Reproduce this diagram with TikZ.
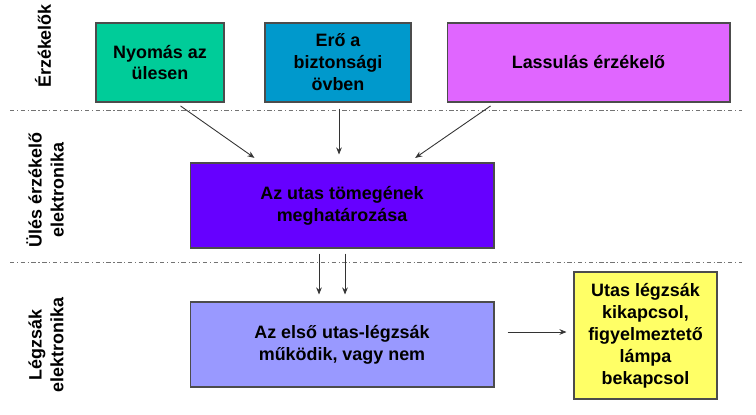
\documentclass[tikz,border=0pt]{standalone}
\usepackage{fontspec}
\setmainfont{Liberation Sans}
\usetikzlibrary{calc,arrows.meta}
\definecolor{nyomasgreen}{RGB}{0,204,153}
\definecolor{erokek}{RGB}{0,153,204}
\definecolor{lassulila}{RGB}{224,102,255}
\definecolor{tomegviola}{RGB}{102,0,255}
\definecolor{elsokek}{RGB}{153,153,255}
\definecolor{utassarga}{RGB}{255,255,102}
\tikzset{
  box/.style={draw=black!70, line width=0.6pt, align=center, inner sep=0pt,
    font=\fontsize{10.2}{12.5}\selectfont\bfseries},
  sidelabel/.style={rotate=90, align=center,
    font=\fontsize{10.2}{12.5}\selectfont\bfseries},
  sep/.style={draw=black!55, line width=0.5pt, dash pattern=on 2.5pt off 1.5pt on 0.6pt off 1.5pt},
  conn/.style={draw=black!80, line width=0.5pt, -{Stealth[length=4pt,width=3.2pt]}}
}
\begin{document}
\begin{tikzpicture}[x=0.02cm, y=-0.02cm]
			%%%%% START %%%%%
			\useasboundingbox (0, 0) rectangle (756, 415);
			
			\node[sidelabel] (erzekelok) at (43, 46) {Érzékelők};
			\node[sidelabel] (ules) at (45, 190) {Ülés érzékelő\\elektronika};
			\node[sidelabel] (legzsak) at (46, 345) {Légzsák\\elektronika};
			
			\draw[sep] (10, 110) -- (742, 110);
			\draw[sep] (10, 262) -- (742, 262);
			
			\node[box, fill=nyomasgreen, minimum width=2.56cm, minimum height=1.58cm] (nyomas) at (160, 62.5) {Nyomás az\\ülesen};
			\node[box, fill=erokek, minimum width=2.92cm, minimum height=1.58cm] (ero) at (338, 62.5) {Erő a\\biztonsági\\övben};
			\node[box, fill=lassulila, minimum width=5.66cm, minimum height=1.58cm] (lassulas) at (588.5, 62.5) {Lassulás érzékelő};
			
			\node[box, fill=tomegviola, minimum width=6.08cm, minimum height=1.70cm] (tomeg) at (342, 205.5) {Az utas tömegének\\meghatározása};
			
			\node[box, fill=elsokek, minimum width=6.08cm, minimum height=1.70cm] (elso) at (342, 344.5) {Az első utas-légzsák\\működik, vagy nem};
			\node[box, fill=utassarga, minimum width=2.86cm, minimum height=2.54cm] (utas) at (645.5, 335.5) {Utas légzsák\\kikapcsol,\\figyelmeztető\\lámpa\\bekapcsol};
			
			\draw[conn, shorten <=0.12cm, shorten >=0.16cm] ($(nyomas.south)+(15.6, 0)$) -- ($(tomeg.north)+(-81, 0)$);
			\draw[conn, shorten <=0.12cm, shorten >=0.16cm] ($(ero.south)+(1, 0)$) -- ($(tomeg.north)+(-3, 0)$);
			\draw[conn, shorten <=0.12cm, shorten >=0.16cm] ($(lassulas.south)+(-93, 0)$) -- ($(tomeg.north)+(66.6, 0)$);
			
			\draw[conn, shorten <=0.10cm, shorten >=0.14cm] ($(tomeg.south)+(-23, 0)$) -- ($(elso.north)+(-23, 0)$);
			\draw[conn, shorten <=0.10cm, shorten >=0.14cm] ($(tomeg.south)+(3, 0)$) -- ($(elso.north)+(3, 0)$);
			
			\draw[conn, shorten <=0.26cm, shorten >=0.14cm] ($(elso.east)+(0, -12.5)$) -- ($(utas.west)+(0, -3.5)$);
			%%%%% END %%%%%
\end{tikzpicture}
\end{document}
